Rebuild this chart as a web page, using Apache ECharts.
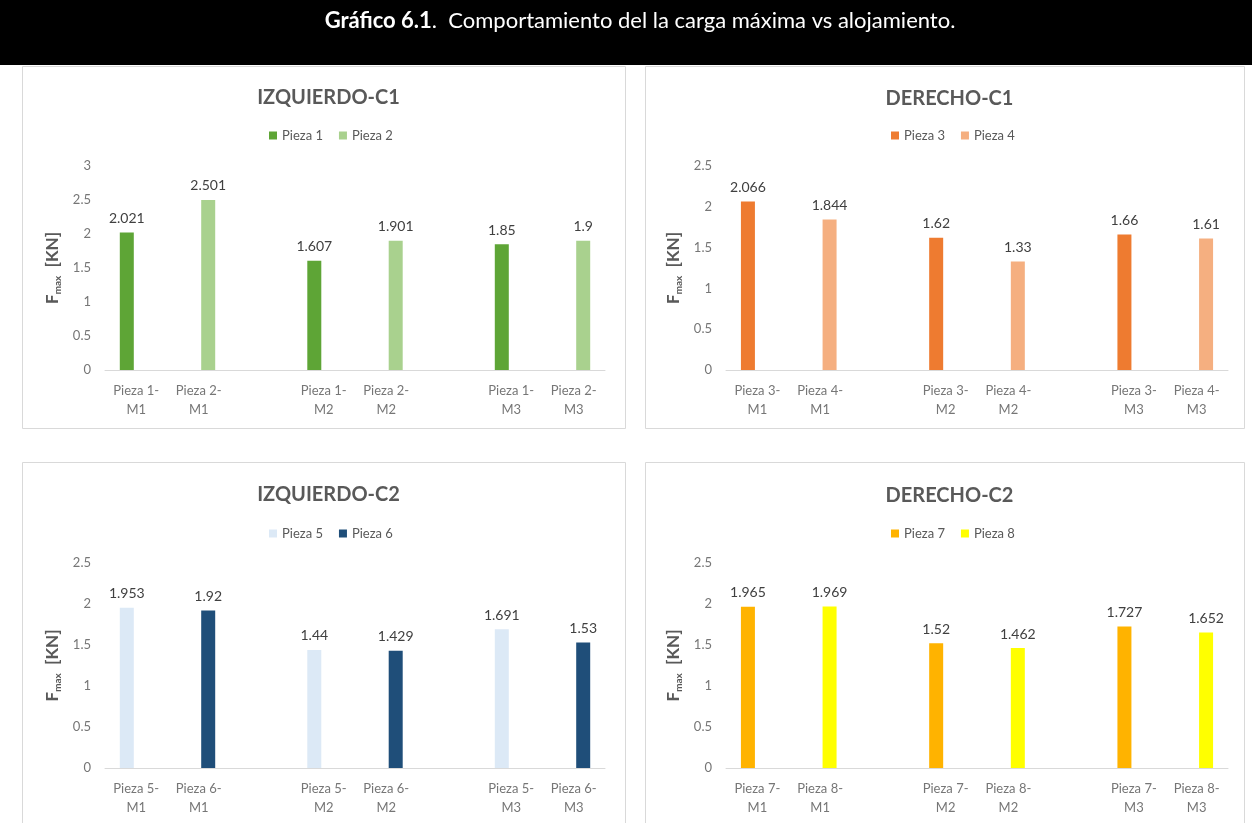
<!DOCTYPE html>
<html><head><meta charset="utf-8">
<script src="https://cdn.jsdelivr.net/npm/echarts@6/dist/echarts.min.js"></script>
<style>html,body{margin:0;padding:0;background:#fff}#c{width:1252px;height:823px}</style>
</head><body><div id="c"></div>
<script>
// ---- data ----
const headerBold = 'Gráfico 6.1';
const headerRest = '.  Comportamiento del la carga máxima vs alojamiento.';
const chartTitles = ['IZQUIERDO-C1', 'DERECHO-C1', 'IZQUIERDO-C2', 'DERECHO-C2'];
const catsC1L = ['Pieza 1-\nM1', 'Pieza 2-\nM1', '', 'Pieza 1-\nM2', 'Pieza 2-\nM2', '', 'Pieza 1-\nM3', 'Pieza 2-\nM3'];
const catsC1R = ['Pieza 3-\nM1', 'Pieza 4-\nM1', '', 'Pieza 3-\nM2', 'Pieza 4-\nM2', '', 'Pieza 3-\nM3', 'Pieza 4-\nM3'];
const catsC2L = ['Pieza 5-\nM1', 'Pieza 6-\nM1', '', 'Pieza 5-\nM2', 'Pieza 6-\nM2', '', 'Pieza 5-\nM3', 'Pieza 6-\nM3'];
const catsC2R = ['Pieza 7-\nM1', 'Pieza 8-\nM1', '', 'Pieza 7-\nM2', 'Pieza 8-\nM2', '', 'Pieza 7-\nM3', 'Pieza 8-\nM3'];
const pieza1 = [2.021, 1.607, 1.85];
const pieza2 = [2.501, 1.901, 1.9];
const pieza3 = [2.066, 1.62, 1.66];
const pieza4 = [1.844, 1.33, 1.61];
const pieza5 = [1.953, 1.44, 1.691];
const pieza6 = [1.92, 1.429, 1.53];
const pieza7 = [1.965, 1.52, 1.727];
const pieza8 = [1.969, 1.462, 1.652];
const yMaxes = [3, 2.5, 2.5, 2.5];
const yInterval = 0.5;

// ---- layout / style ----
const FONT = 'Lato, "Open Sans", sans-serif';
const panels = [
  {x: 22, y: 66, w: 603, h: 362},
  {x: 645, y: 66, w: 599, h: 362},
  {x: 22, y: 462, w: 603, h: 380},
  {x: 645, y: 462, w: 599, h: 380}
];
const grids = [
  {left: 105, width: 500, top: 166, height: 204},
  {left: 726, width: 502, top: 166, height: 204},
  {left: 105, width: 500, top: 563, height: 205},
  {left: 726, width: 502, top: 563, height: 205}
];
const legendLeft = [264, 886, 264, 886];
const legendTop = [124, 124, 522, 522];
const titleTop = [83, 84, 480, 481];
const colors = ['#5EA536', '#A9D18E', '#EE7B30', '#F5AF80', '#DCE9F6', '#1F4E79', '#FFB300', '#FFFF00'];
const catsAll = [catsC1L, catsC1R, catsC2L, catsC2R];
const seriesVals = [pieza1, pieza2, pieza3, pieza4, pieza5, pieza6, pieza7, pieza8];

function slots(vals, off) {
  const arr = ['-', '-', '-', '-', '-', '-', '-', '-'];
  vals.forEach((v, i) => { arr[i * 3 + off] = v; });
  return arr;
}

const option = {
  animation: false,
  backgroundColor: '#ffffff',
  textStyle: {fontFamily: FONT},
  graphic: [
    {type: 'rect', shape: {x: 0, y: 0, width: 1252, height: 65}, style: {fill: '#000'}, z: 0},
    {type: 'text', x: 640, y: 21, style: {
      text: '{b|' + headerBold + '}{n|' + headerRest + '}',
      align: 'center', verticalAlign: 'middle',
      rich: {
        b: {fontFamily: FONT, fontSize: 22, fontWeight: 'bold', fill: '#fff', color: '#fff'},
        n: {fontFamily: FONT, fontSize: 22, fill: '#fff', color: '#fff'}
      }
    }, z: 1}
  ].concat(panels.map(p => ({
    type: 'rect', shape: {x: p.x + 0.5, y: p.y + 0.5, width: p.w, height: p.h},
    style: {fill: '#fff', stroke: '#d9d9d9', lineWidth: 1}, z: -1
  }))),
  title: chartTitles.map((t, i) => ({
    text: t, left: panels[i].x + panels[i].w / 2, top: titleTop[i], textAlign: 'center',
    textStyle: {fontFamily: FONT, fontSize: 20, fontWeight: 'bold', color: '#595959'}
  })),
  legend: [0, 1, 2, 3].map(i => ({
    data: ['Pieza ' + (2 * i + 1), 'Pieza ' + (2 * i + 2)],
    left: legendLeft[i], top: legendTop[i], icon: 'rect', itemWidth: 8, itemHeight: 8, itemGap: 16,
    textStyle: {fontFamily: FONT, fontSize: 13, color: '#595959'}
  })),
  grid: grids.map(g => Object.assign({containLabel: false}, g)),
  xAxis: [0, 1, 2, 3].map(i => ({
    type: 'category', gridIndex: i, data: catsAll[i],
    axisLine: {lineStyle: {color: '#d9d9d9'}}, axisTick: {show: false},
    axisLabel: {interval: 0, fontFamily: FONT, fontSize: 13, color: '#767676', lineHeight: 19, margin: 11}
  })),
  yAxis: [0, 1, 2, 3].map(i => ({
    type: 'value', gridIndex: i, min: 0, max: yMaxes[i], interval: yInterval,
    splitLine: {show: false}, axisLine: {show: false}, axisTick: {show: false},
    axisLabel: {fontFamily: FONT, fontSize: 13, color: '#767676', margin: 14},
    name: '{a|F}{s|max}{a|  [KN]}', nameLocation: 'middle', nameRotate: 90, nameGap: 42,
    nameTextStyle: {
      rich: {
        a: {fontFamily: FONT, fontSize: 17, fontWeight: 'bold', color: '#595959', lineHeight: 20},
        s: {fontFamily: FONT, fontSize: 10, fontWeight: 'bold', color: '#595959', verticalAlign: 'bottom', lineHeight: 14}
      }
    }
  })),
  series: seriesVals.map((vals, k) => ({
    type: 'bar', name: 'Pieza ' + (k + 1),
    xAxisIndex: Math.floor(k / 2), yAxisIndex: Math.floor(k / 2),
    data: slots(vals, k % 2),
    barWidth: 14, barGap: '35%',
    itemStyle: {color: colors[k]},
    label: {show: true, position: 'top', distance: 7, fontFamily: FONT, fontSize: 14, color: '#404040'}
  }))
};
const chart = echarts.init(document.getElementById('c'), null, {renderer: 'canvas'});
chart.setOption(option);
</script>
</body></html>
